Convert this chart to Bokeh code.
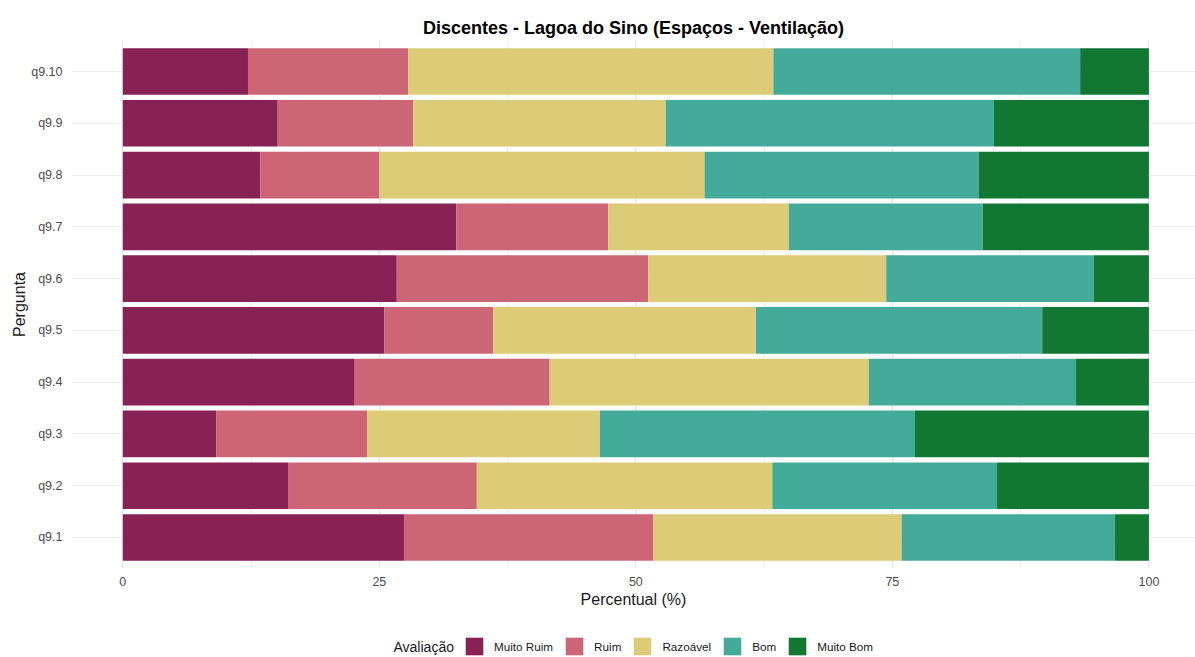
from bokeh.plotting import figure
from bokeh.models import ColumnDataSource, FixedTicker, Range1d, Legend, Label
from bokeh.layouts import column
from bokeh.embed import file_html
from bokeh.resources import INLINE

perguntas = ["q9.1", "q9.2", "q9.3", "q9.4", "q9.5", "q9.6", "q9.7", "q9.8", "q9.9", "q9.10"]
muito_ruim = [27.4, 16.1, 9.1, 22.6, 25.5, 26.7, 32.5, 13.4, 15.1, 12.2]
ruim       = [24.3, 18.4, 14.7, 19.0, 10.6, 24.5, 14.8, 11.6, 13.2, 15.6]
razoavel   = [24.2, 28.8, 22.7, 31.1, 25.6, 23.2, 17.6, 31.7, 24.6, 35.6]
bom        = [20.8, 21.9, 30.7, 20.2, 27.9, 20.2, 18.9, 26.7, 32.0, 29.9]
muito_bom  = [3.3, 14.8, 22.8, 7.1, 10.4, 5.4, 16.2, 16.6, 15.1, 6.7]

categorias = ["Muito Ruim", "Ruim", "Razoável", "Bom", "Muito Bom"]
cores = ["#882255", "#CC6677", "#DDCC77", "#44AA99", "#117733"]
x_ticks = [0, 25, 50, 75, 100]

FONT = "Liberation Sans"

ypos = list(range(1, len(perguntas) + 1))
source = ColumnDataSource(dict(
    y=ypos,
    mr=muito_ruim, r=ruim, rz=razoavel, b=bom, mb=muito_bom,
))
stackers = ["mr", "r", "rz", "b", "mb"]

p = figure(width=1195, height=625, output_backend="svg", toolbar_location=None,
           x_range=Range1d(-5, 104.54), y_range=Range1d(0.4, 10.6),
           min_border_left=71, min_border_right=0, min_border_top=40, min_border_bottom=57)

renderers = p.hbar_stack(stackers, y="y", height=0.9, color=cores, line_color=None, source=source)

p.title.text = "Discentes - Lagoa do Sino (Espaços - Ventilação)"
p.title.align = "center"
p.title.text_font = FONT
p.title.text_font_size = "18px"
p.title.text_font_style = "bold"
p.title.text_color = "#000000"
p.title.standoff = 5

p.background_fill_color = "white"
p.border_fill_color = "white"
p.outline_line_color = None

xt = FixedTicker(ticks=x_ticks, minor_ticks=[12.5, 37.5, 62.5, 87.5])
p.xaxis.ticker = xt
p.xgrid.ticker = xt
p.xgrid.grid_line_color = "#e6e6e6"
p.xgrid.minor_grid_line_color = "#f0f0f0"
p.xaxis.axis_label = "Percentual (%)"

p.yaxis.ticker = FixedTicker(ticks=ypos)
p.yaxis.major_label_overrides = {i: lab for i, lab in zip(ypos, perguntas)}
p.ygrid.ticker = FixedTicker(ticks=ypos)
p.ygrid.grid_line_color = "#ebebeb"
p.yaxis.axis_label = "Pergunta"

for ax in (p.xaxis[0], p.yaxis[0]):
    ax.axis_line_color = None
    ax.major_tick_line_color = None
    ax.minor_tick_line_color = None
    ax.major_tick_out = 0
    ax.minor_tick_out = 0
    ax.major_label_text_font = FONT
    ax.major_label_text_font_size = "12.5px"
    ax.major_label_text_color = "#4d4d4d"
    ax.axis_label_text_font = FONT
    ax.axis_label_text_font_size = "16px"
    ax.axis_label_text_font_style = "normal"
    ax.axis_label_text_color = "#1a1a1a"

p.xaxis.major_label_standoff = 8
p.xaxis.axis_label_standoff = 2
p.yaxis.major_label_standoff = 9
p.yaxis.axis_label_standoff = 0

# legend strip below the chart (its frame is aligned with the chart's frame, starting at x=71)
p2 = figure(width=1195, height=32, output_backend="svg", toolbar_location=None,
            x_range=Range1d(71, 1195), y_range=Range1d(0, 32),
            x_axis_location=None, y_axis_location=None,
            min_border_left=71, min_border_right=0, min_border_top=0, min_border_bottom=0)
p2.grid.visible = False
p2.outline_line_color = None
p2.background_fill_color = "white"
p2.border_fill_color = "white"
# placeholder glyphs (outside the visible range) that only supply the legend swatches
leg_renderers = [p2.hbar(y=[-100], left=[0], right=[0], height=1, color=c, line_color=None)
                 for c in cores]

items = [(lab, [r]) for lab, r in zip(categorias, leg_renderers)]
legend = Legend(items=items, orientation="horizontal", location=(463 - 71, 0))
legend.label_text_font = FONT
legend.label_text_font_size = "11.7px"
legend.label_text_color = "#1a1a1a"
legend.glyph_width = 22
legend.glyph_height = 22
legend.label_standoff = 9
legend.spacing = 10
legend.padding = 0
legend.margin = 0
legend.border_line_color = None
legend.background_fill_color = None
p2.add_layout(legend, "center")

titulo_legenda = Label(x=393, y=11, text="Avaliação", text_font=FONT, text_font_size="14px",
                       text_color="#1a1a1a", text_baseline="middle", text_align="left")
p2.add_layout(titulo_legenda)

open("out.html", "w").write(file_html(column(p, p2), INLINE))
